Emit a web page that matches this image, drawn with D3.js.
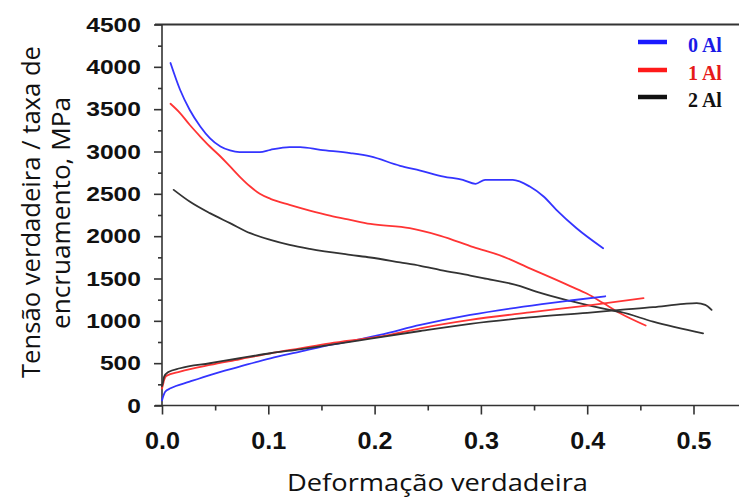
<!DOCTYPE html>
<html><head><meta charset="utf-8">
<script src="https://cdn.jsdelivr.net/npm/d3@7"></script>
<style>body{margin:0;background:#fff}</style>
</head><body><svg id="c" width="739" height="499"></svg>
<script>
// ---- data ----
const xTicks = [0, 0.1, 0.2, 0.3, 0.4, 0.5];
const xMinorTicks = [0.05, 0.15, 0.25, 0.35, 0.45];
const yTicks = [0, 500, 1000, 1500, 2000, 2500, 3000, 3500, 4000, 4500];
const yMinorTicks = [250, 750, 1250, 1750, 2250, 2750, 3250, 3750, 4250];
const seriesNames = ["0 Al", "1 Al", "2 Al"];
const seriesColors = ["#3434ff", "#ff3434", "#333333"];
const legendLineColors = ["#1a1aff", "#ff1a1a", "#111111"];
const legendTextColors = ["#1a1ae6", "#e61a1a", "#111111"];

// strain-hardening rate curves (upper, decreasing)
const hard0Al = [[0.008,4045],[0.017,3729],[0.026,3493],[0.036,3296],[0.045,3158],[0.055,3059],[0.064,3012],[0.073,2993],[0.092,2993],[0.102,3020],[0.120,3052],[0.130,3052],[0.149,3020],[0.177,2981],[0.196,2941],[0.224,2831],[0.243,2775],[0.265,2704],[0.283,2665],[0.295,2618],[0.304,2665],[0.330,2665],[0.346,2586],[0.359,2468],[0.371,2311],[0.390,2094],[0.415,1858]];
const hard1Al = [[0.008,3564],[0.017,3454],[0.026,3316],[0.036,3177],[0.045,3059],[0.055,2941],[0.064,2823],[0.073,2704],[0.083,2586],[0.092,2500],[0.102,2441],[0.120,2370],[0.139,2303],[0.158,2243],[0.177,2193],[0.196,2145],[0.233,2094],[0.262,2004],[0.293,1870],[0.321,1759],[0.346,1620],[0.371,1483],[0.384,1410],[0.400,1320],[0.415,1210],[0.431,1090],[0.455,945]];
const hard2Al = [[0.011,2547],[0.026,2409],[0.045,2272],[0.064,2154],[0.083,2035],[0.102,1956],[0.120,1897],[0.139,1850],[0.177,1779],[0.196,1748],[0.224,1690],[0.243,1650],[0.262,1600],[0.290,1535],[0.302,1505],[0.337,1410],[0.352,1345],[0.384,1235],[0.421,1129],[0.431,1105],[0.462,991],[0.509,853]];

// true stress curves (lower, increasing)
const tens0Al = [[0,60],[0.001,104],[0.003,163],[0.008,203],[0.026,281],[0.045,360],[0.073,459],[0.102,558],[0.130,636],[0.158,715],[0.186,782],[0.205,833],[0.243,951],[0.290,1070],[0.340,1168],[0.384,1240],[0.417,1290]];
const tens1Al = [[0,200],[0.001,250],[0.002,301],[0.004,350],[0.017,400],[0.045,479],[0.073,546],[0.102,617],[0.130,676],[0.158,735],[0.186,782],[0.205,813],[0.243,912],[0.290,1011],[0.346,1100],[0.400,1180],[0.453,1267]];
const tens2Al = [[0,230],[0.001,280],[0.002,340],[0.006,395],[0.017,440],[0.045,499],[0.073,558],[0.102,617],[0.130,664],[0.158,715],[0.186,770],[0.243,880],[0.290,965],[0.346,1040],[0.400,1095],[0.431,1129],[0.462,1161],[0.491,1200],[0.503,1208],[0.511,1188],[0.517,1129]];

const xTitle = "Deformação verdadeira";
const yTitle1 = "Tensão verdadeira / taxa de";
const yTitle2 = "encruamento, MPa";

// ---- drawing ----
const W = 739, H = 499;
const svg = d3.select("#c");
svg.append("rect").attr("width", W).attr("height", H).attr("fill", "#fff");

const x = d3.scaleLinear().domain([0, 0.5]).range([162, 693.5]);
const y = d3.scaleLinear().domain([0, 4500]).range([405.5, 24.5]);
const axisColor = "#333";

// frame lines
svg.append("line").attr("x1", 155).attr("x2", W).attr("y1", y(4500)).attr("y2", y(4500))
  .attr("stroke", axisColor).attr("stroke-width", 2);
svg.append("line").attr("x1", 155).attr("x2", W).attr("y1", y(0)).attr("y2", y(0))
  .attr("stroke", axisColor).attr("stroke-width", 1.6);
svg.append("line").attr("x1", x(0)).attr("x2", x(0)).attr("y1", y(4500)).attr("y2", y(0))
  .attr("stroke", axisColor).attr("stroke-width", 1.6);

function styleAxis(g) {
  g.select(".domain").remove();
  g.selectAll(".tick line").attr("stroke", axisColor).attr("stroke-width", 1.6);
}

// x axis
const gx = svg.append("g").attr("transform", `translate(0,${y(0)})`)
  .call(d3.axisBottom(x).tickValues(xTicks).tickSize(9).tickPadding(18).tickFormat(d3.format(".1f")));
styleAxis(gx);
gx.selectAll(".tick text")
  .attr("font-family", "Liberation Sans, Arial, sans-serif").attr("font-weight", "bold")
  .attr("font-size", 23).attr("fill", "#111")
  .attr("textLength", 35).attr("lengthAdjust", "spacingAndGlyphs");
const gxm = svg.append("g").attr("transform", `translate(0,${y(0)})`)
  .call(d3.axisBottom(x).tickValues(xMinorTicks).tickSize(5).tickFormat(""));
styleAxis(gxm);

// y axis
const gy = svg.append("g").attr("transform", `translate(${x(0)},0)`)
  .call(d3.axisLeft(y).tickValues(yTicks).tickSize(8).tickPadding(13).tickFormat(d3.format("d")));
styleAxis(gy);
gy.selectAll(".tick text")
  .attr("font-family", "Liberation Sans, Arial, sans-serif").attr("font-weight", "bold")
  .attr("font-size", 21).attr("fill", "#111")
  .attr("textLength", d => String(d).length * 13.7).attr("lengthAdjust", "spacingAndGlyphs");
const gym = svg.append("g").attr("transform", `translate(${x(0)},0)`)
  .call(d3.axisLeft(y).tickValues(yMinorTicks).tickSize(4).tickFormat(""));
styleAxis(gym);

// curves
const line = d3.line().x(d => x(d[0])).y(d => y(d[1])).curve(d3.curveMonotoneX);
const curves = [
  [hard0Al, 0], [hard1Al, 1], [hard2Al, 2],
  [tens0Al, 0], [tens1Al, 1], [tens2Al, 2]
];
curves.forEach(([data, i]) => {
  svg.append("path").datum(data).attr("d", line)
    .attr("fill", "none").attr("stroke", seriesColors[i]).attr("stroke-width", 1.8)
    .attr("stroke-linejoin", "round").attr("stroke-linecap", "round");
});

// legend
const legendY = [42, 70, 97];
seriesNames.forEach((name, i) => {
  svg.append("line").attr("x1", 638).attr("x2", 667).attr("y1", legendY[i]).attr("y2", legendY[i])
    .attr("stroke", legendLineColors[i]).attr("stroke-width", 4.5);
  svg.append("text").attr("x", 688).attr("y", legendY[i] + 10)
    .attr("font-family", "Liberation Serif, Times New Roman, serif").attr("font-weight", "bold")
    .attr("font-size", 20).attr("fill", legendTextColors[i]).text(name);
});

// titles
svg.append("text").attr("x", 437.5).attr("y", 491).attr("text-anchor", "middle")
  .attr("font-family", "Open Sans, sans-serif").attr("font-size", 24).attr("fill", "#111")
  .attr("textLength", 301).attr("lengthAdjust", "spacingAndGlyphs").text(xTitle);
svg.append("text").attr("transform", "translate(40,212) rotate(-90)").attr("text-anchor", "middle")
  .attr("font-family", "Open Sans, sans-serif").attr("font-size", 25).attr("fill", "#111")
  .attr("textLength", 332).attr("lengthAdjust", "spacingAndGlyphs").text(yTitle1);
svg.append("text").attr("transform", "translate(70,213) rotate(-90)").attr("text-anchor", "middle")
  .attr("font-family", "Open Sans, sans-serif").attr("font-size", 25).attr("fill", "#111")
  .attr("textLength", 232).attr("lengthAdjust", "spacingAndGlyphs").text(yTitle2);
</script>
</body></html>
